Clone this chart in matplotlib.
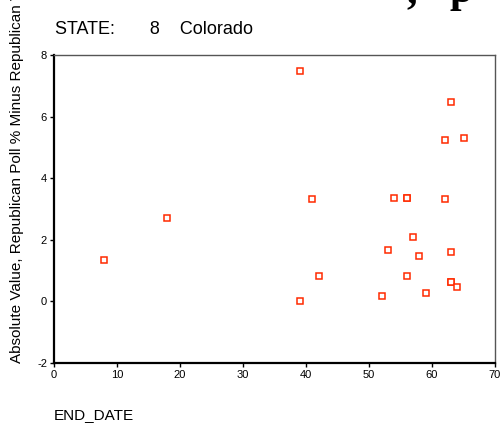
import matplotlib
matplotlib.use("Agg")
import matplotlib.pyplot as plt

plt.rcParams["font.family"] = ["Liberation Sans", "DejaVu Sans"]
plt.rcParams["axes.unicode_minus"] = False

# END_DATE vs absolute poll error, Colorado
end_date = [8, 18, 39, 39, 41, 42, 52, 53, 54, 56, 56, 56, 57, 58, 59,
            62, 62, 63, 63, 63, 63, 64, 65]
abs_diff = [1.36, 2.70, 7.48, 0.02, 3.33, 0.82, 0.16, 1.66, 3.37, 3.37, 0.82,
            3.37, 2.09, 1.47, 0.27, 5.23, 3.33, 6.49, 1.61, 0.63, 0.63, 0.46, 5.32]

x_ticks = [0, 10, 20, 30, 40, 50, 60, 70]
y_ticks = [-2, 0, 2, 4, 6, 8]

fig = plt.figure(figsize=(5.01, 4.29), dpi=100)
ax = fig.add_axes([54 / 501, 66 / 429, 441 / 501, 308 / 429])

ax.plot(end_date, abs_diff, linestyle="none", marker="s", markersize=4.3,
        markerfacecolor="white", markeredgecolor="#ff2a00", markeredgewidth=1.1)

ax.set_xlim(0, 70)
ax.set_ylim(-2, 8)
ax.set_xticks(x_ticks)
ax.set_yticks(y_ticks)
ax.tick_params(labelsize=8, length=3, width=1, pad=2, colors="black")

for side in ("left", "bottom"):
    ax.spines[side].set_linewidth(1.6)
    ax.spines[side].set_color("black")
for side in ("top", "right"):
    ax.spines[side].set_linewidth(1.0)
    ax.spines[side].set_color("#555555")

fig.text(55 / 501, 1 - 30 / 429, "STATE:       8    Colorado", fontsize=13,
         ha="left", va="center")
fig.text(54 / 501, 1 - 415 / 429, "END_DATE", fontsize=11, ha="left", va="center")
fig.text(17 / 501, 1 - 363 / 429,
         "Absolute Value, Republican Poll % Minus Republican Vote %",
         fontsize=11, rotation=90, ha="center", va="bottom")

# clipped heading fragments at the top edge
fig.text(406 / 501, 1 - 2 / 429, ",", fontsize=30, fontweight="bold",
         family="Liberation Serif", ha="left", va="baseline")
fig.text(449 / 501, 1 - 2 / 429, "p", fontsize=30, fontweight="bold",
         family="Liberation Serif", ha="left", va="baseline")

fig.savefig("out.png", dpi=100)
